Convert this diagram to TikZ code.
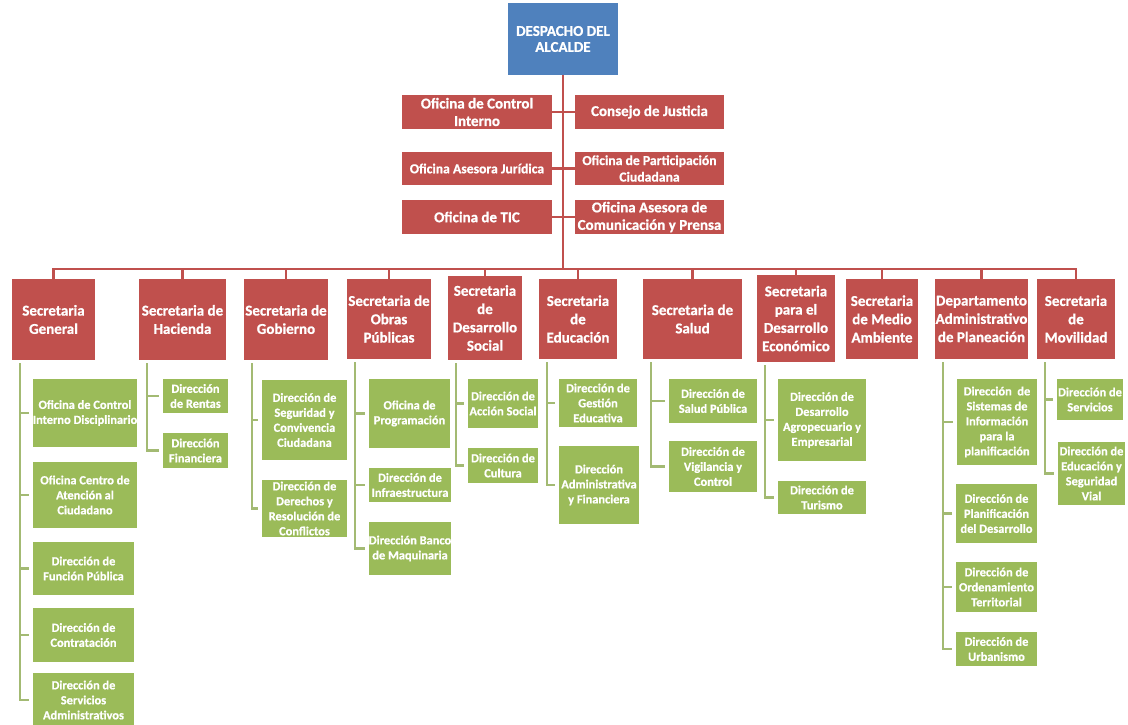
\documentclass[tikz,border=0pt]{standalone}
\usepackage{fontspec}
\setmainfont{Carlito}[BoldFeatures={FakeBold=0.8}]
\usepackage{tikz}
\usetikzlibrary{calc}
\definecolor{jefe}{RGB}{79,129,189}
\definecolor{rojo}{RGB}{192,80,77}
\definecolor{verde}{RGB}{155,187,89}
\definecolor{rama}{RGB}{163,186,115}
\tikzset{
  box/.style={inner sep=0pt, align=center, text=white},
  wh/.style 2 args={minimum width=#1, minimum height=#2},
  jefe/.style={box, fill=jefe, font=\bfseries\fontsize{15}{16}\selectfont},
  ofi/.style={box, fill=rojo, font=\bfseries\fontsize{15}{17.5}\selectfont},
  ofichica/.style={ofi, font=\bfseries\fontsize{13.7}{16.5}\selectfont},
  sec/.style={box, fill=rojo, font=\bfseries\fontsize{15}{18.3}\selectfont},
  dir/.style={box, fill=verde, font=\bfseries\fontsize{12.4}{15}\selectfont},
  linea/.style={draw=rojo, line width=2.8pt},
  rama/.style={draw=rama, line width=2.4pt},
}

\begin{document}
\begin{tikzpicture}[x=1pt,y=-1pt]
  \fill[white] (0,0) rectangle (1128,725);
  \useasboundingbox (0,0) rectangle (1128,725);

  \node[jefe, wh={110}{72}] (alcalde) at (563,39) {DESPACHO DEL\\ALCALDE};

  \node[ofi, wh={150}{34}] (oci) at (477,112) {Oficina de Control\\Interno};
  \node[ofi, wh={149}{34}] (cj) at (649.5,112) {Consejo de Justicia};
  \node[ofichica, wh={150}{33}] (oaj) at (477,168.5) {Oficina Asesora Jurídica};
  \node[ofichica, wh={149}{33}] (opc) at (649.5,168.5) {Oficina de Participación\\Ciudadana};
  \node[ofi, wh={150}{34}] (tic) at (477,217) {Oficina de TIC};
  \node[ofi, wh={149}{34}] (oac) at (649.5,217) {Oficina Asesora de\\Comunicación y Prensa};

  \coordinate (bus) at (563,269);

  \node[sec, wh={83}{81}] (sg) at (53.5,319.5) {Secretaria\\General};
  \node[sec, wh={87}{81}] (sh) at (182.5,319.5) {Secretaria de\\Hacienda};
  \node[sec, wh={84}{81}] (sgo) at (286,319.5) {Secretaria de\\Gobierno};
  \node[sec, wh={84}{80}] (sop) at (389,319) {Secretaria de\\Obras\\Públicas};
  \node[sec, wh={74}{84}] (sds) at (485,318) {Secretaria\\de\\Desarrollo\\Social};
  \node[sec, wh={78}{80}] (sed) at (578,319) {Secretaria\\de\\Educación};
  \node[sec, wh={99}{80}] (ssa) at (692.5,319) {Secretaria de\\Salud};
  \node[sec, wh={78}{87}] (sde) at (796,318.5) {Secretaria\\para el\\Desarrollo\\Económico};
  \node[sec, wh={72}{80}] (sma) at (882,319) {Secretaria\\de Medio\\Ambiente};
  \node[sec, wh={93}{80}] (dap) at (981.5,319) {Departamento\\Administrativo\\de Planeación};
  \node[sec, wh={78}{80}] (smo) at (1076,319) {Secretaria\\de\\Movilidad};

  \node[dir, wh={104}{68}] (sg1) at (85,413) {Oficina de Control\\Interno Disciplinario};
  \node[dir, wh={104}{66}] (sg2) at (85,495) {Oficina Centro de\\Atención al\\Ciudadano};
  \node[dir, wh={101}{53}] (sg3) at (83.5,568.5) {Dirección de\\Función Pública};
  \node[dir, wh={101}{54}] (sg4) at (83.5,635) {Dirección de\\Contratación};
  \node[dir, wh={101}{54}] (sg5) at (83.5,700) {Dirección de\\Servicios\\Administrativos};

  \node[dir, wh={65}{34}] (sh1) at (195.5,396) {Dirección\\de Rentas};
  \node[dir, wh={65}{35}] (sh2) at (195.5,450.5) {Dirección\\Financiera};

  \node[dir, wh={85}{80}] (sgo1) at (304.5,420) {Dirección de\\Seguridad y\\Convivencia\\Ciudadana};
  \node[dir, wh={85}{57}] (sgo2) at (304.5,508.5) {Dirección de\\Derechos y\\Resolución de\\Conflictos};

  \node[dir, wh={81}{69}] (sop1) at (409.5,413.5) {Oficina de\\Programación};
  \node[dir, wh={82}{34}] (sop2) at (410,485) {Dirección de\\Infraestructura};
  \node[dir, wh={82}{53}] (sop3) at (410,548.5) {Dirección Banco\\de Maquinaria};

  \node[dir, wh={70}{49}] (sds1) at (503,403.5) {Dirección de\\Acción Social};
  \node[dir, wh={70}{35}] (sds2) at (503,465.5) {Dirección de\\Cultura};

  \node[dir, wh={78}{48}] (sed1) at (598,403) {Dirección de\\Gestión\\Educativa};
  \node[dir, wh={80}{78}] (sed2) at (599,485) {Dirección\\Administrativa\\y Financiera};

  \node[dir, wh={88}{44}] (ssa1) at (713,401) {Dirección de\\Salud Pública};
  \node[dir, wh={88}{51}] (ssa2) at (713,466.5) {Dirección de\\Vigilancia y\\Control};

  \node[dir, wh={88}{82}] (sde1) at (822,420) {Dirección de\\Desarrollo\\Agropecuario y\\Empresarial};
  \node[dir, wh={88}{33}] (sde2) at (822,497.5) {Dirección de\\Turismo};

  \node[dir, wh={80}{86}] (dap1) at (997,422) {Dirección~ de\\Sistemas de\\Información\\para la\\planificación};
  \node[dir, wh={81}{59}] (dap2) at (996.5,513.5) {Dirección de\\Planificación\\del Desarrollo};
  \node[dir, wh={81}{50}] (dap3) at (996.5,587) {Dirección de\\Ordenamiento\\Territorial};
  \node[dir, wh={81}{34}] (dap4) at (996.5,649) {Dirección de\\Urbanismo};

  \node[dir, wh={66}{41}] (smo1) at (1090,399.5) {Dirección de\\Servicios};
  \node[dir, wh={67}{63}] (smo2) at (1091.5,473.5) {Dirección de\\Educación y\\Seguridad\\Vial};

  \draw[linea] (alcalde.south) -- (bus);
  \foreach \a/\b in {oci/cj, oaj/opc, tic/oac}
    \draw[linea] (\a) -- (\b);
  \draw[linea] (sg.north) |- (smo.north |- bus) -- (smo.north);
  \foreach \s in {sh,sgo,sop,sds,sed,ssa,sde,sma,dap}
    \draw[linea] (\s.north) -- (\s.north |- bus);

  \foreach \s/\kids in {sg/{sg1,sg2,sg3,sg4,sg5}, sh/{sh1,sh2}, sgo/{sgo1,sgo2},
      sop/{sop1,sop2,sop3}, sds/{sds1,sds2}, sed/{sed1,sed2}, ssa/{ssa1,ssa2},
      sde/{sde1,sde2}, dap/{dap1,dap2,dap3,dap4}, smo/{smo1,smo2}}
    \foreach \k in \kids
      \draw[rama] ([xshift=8pt,yshift=-3pt]\s.south west) |- ([xshift=-4pt]\k.west);
\end{tikzpicture}
\end{document}
